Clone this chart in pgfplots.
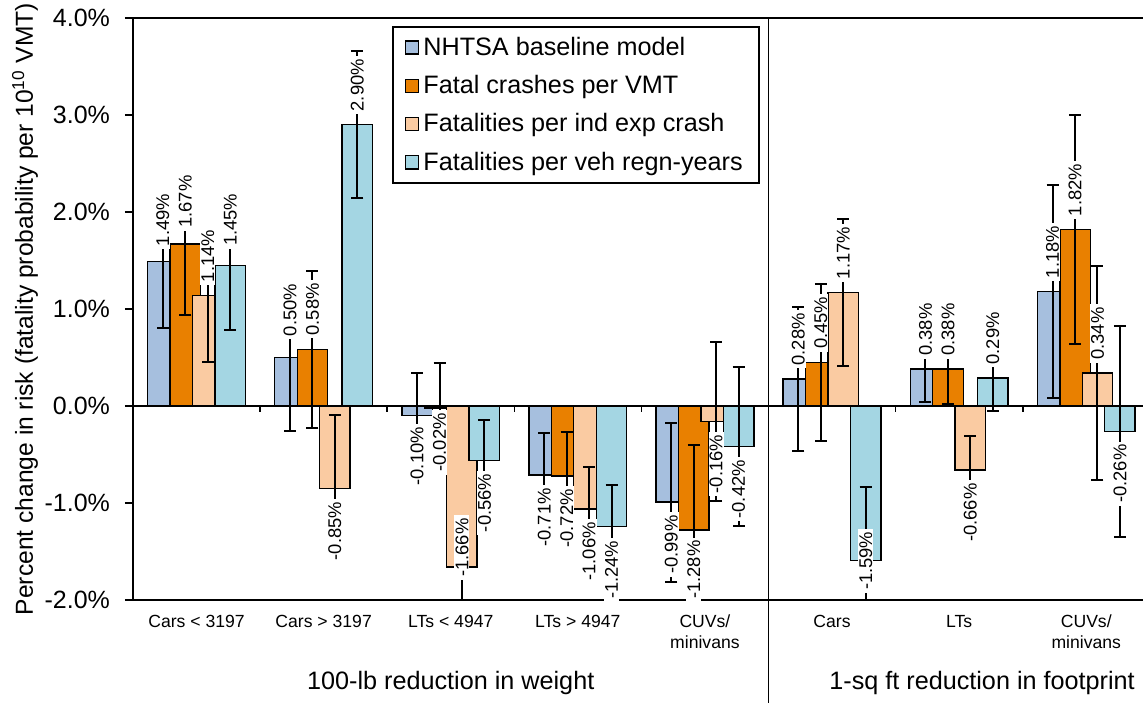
\documentclass[border=0pt]{standalone}
\usepackage{fontspec}
\setmainfont{Liberation Sans}
\usepackage{graphicx}
\usepackage{pgfplots}
\usepackage{pgfplotstable}
\pgfplotsset{compat=1.18}
\usetikzlibrary{calc}

\definecolor{cA}{RGB}{166,191,222}
\definecolor{cB}{RGB}{233,128,0}
\definecolor{cC}{RGB}{250,203,162}
\definecolor{cD}{RGB}{164,214,227}

% x y err label-offset(pt)
\pgfplotstableread{
x y err off
0 1.49 0.69 6
1 0.50 0.76 9
2 -0.10 0.44 -4
3 -0.71 0.43 -5
4 -0.99 0.82 -5
5 0.28 0.74 5
6 0.38 0.34 5
7 1.18 1.10 5
}\tA
\pgfplotstableread{
x y err off
0 1.67 0.73 6.5
1 0.58 0.81 5.5
2 -0.02 0.46 -1
3 -0.72 0.45 -5
4 -1.28 0.88 -3.5
5 0.45 0.81 5
6 0.38 0.36 5
7 1.82 1.18 5
}\tB
\pgfplotstableread{
x y err off
0 1.14 0.69 5
1 -0.85 0.76 -5
2 -1.66 0.42 26
3 -1.06 0.43 -5
4 -0.16 0.82 -5
5 1.17 0.76 5
6 -0.66 0.35 -5
7 0.34 1.10 5
}\tC
\pgfplotstableread{
x y err off
0 1.45 0.67 8
1 2.90 0.76 5
2 -0.56 0.42 -5
3 -1.24 0.43 -5.5
4 -0.42 0.82 -5
5 -1.59 0.75 16
6 0.29 0.34 5
7 -0.26 1.09 -5
}\tD

\pgfplotsset{
  barbase/.style={ybar, bar width=15.25pt, bar shift=0pt, draw=black, line width=0.7pt},
  errs/.style={error bars/.cd, y dir=both, y explicit,
    error bar style={black, line width=1pt},
    error mark options={rotate=90, mark size=3pt, line width=1pt, black}},
  lbls/.style={ybar, bar width=15.25pt, bar shift=0pt, draw=none, fill=none, forget plot,
    point meta=y,
    visualization depends on={\thisrow{off} \as \off},
    nodes near coords={\rotatebox{90}{\pgfmathprintnumber[fixed,fixed zerofill,precision=2,assume math mode=true]{\pgfplotspointmeta}\%}},
    nodes near coords align={vertical},
    every node near coord/.append style={fill=white, text=black, inner xsep=0.5pt, inner ysep=1.5pt,
      font=\fontsize{9.2}{10}\selectfont, yshift=\off pt}},
}

\begin{document}
\begin{tikzpicture}
\begin{axis}[
  scale only axis,
  width=508.4pt, height=291pt,
  xmin=-0.5, xmax=7.5,
  ymin=-2, ymax=4,
  axis line style={line width=0.8pt},
  clip mode=individual,
  xtick={0,...,7},
  xticklabels={Cars < 3197, Cars > 3197, LTs < 4947, LTs > 4947, {CUVs/\\minivans}, Cars, LTs, {CUVs/\\minivans}},
  x tick label style={font=\fontsize{8.8}{10.5}\selectfont, align=center},
  xtick style={draw=none},
  ytick={-2,-1,0,1,2,3,4},
  ytick style={line width=0.8pt, black},
  tick align=outside,
  major tick length=4pt,
  ytick pos=left,
  yticklabel={\pgfmathprintnumber[fixed,fixed zerofill,precision=1,assume math mode=true]{\tick}\%},
  y tick label style={font=\fontsize{12.5}{15}\selectfont, xshift=-4pt},
  ylabel={Percent change in risk (fatality probability per 10\textsuperscript{10} VMT)},
  every axis y label/.style={at={(rel axis cs:0,0.5)}, xshift=-54pt, rotate=90, anchor=center,
    font=\fontsize{12.3}{14}\selectfont},
  legend style={at={(rel axis cs:0.2547,0.986)}, anchor=north west, draw=black, line width=0.8pt,
    font=\fontsize{12.6}{15}\selectfont, row sep=4.5pt, inner xsep=6pt, inner ysep=3pt},
  legend cell align=left,
  legend image code/.code={\draw[#1, draw=black, line width=0.7pt] (0pt,-3.3pt) rectangle (6.6pt,3.3pt);},
]
\addplot[barbase, fill=cA, errs] table[x expr=\thisrow{x}-0.265, y=y, y error=err] {\tA};
\addlegendentry{NHTSA baseline model}
\addplot[barbase, fill=cB, errs] table[x expr=\thisrow{x}-0.088, y=y, y error=err] {\tB};
\addlegendentry{Fatal crashes per VMT}
\addplot[barbase, fill=cC, errs] table[x expr=\thisrow{x}+0.088, y=y, y error=err] {\tC};
\addlegendentry{Fatalities per ind exp crash}
\addplot[barbase, fill=cD, errs] table[x expr=\thisrow{x}+0.265, y=y, y error=err] {\tD};
\addlegendentry{Fatalities per veh regn-years}

\draw[black, line width=0.8pt] (axis cs:-0.5,0) -- (axis cs:7.5,0);
\pgfplotsinvokeforeach{0.5,1.5,2.5,3.5,5.5,6.5}{\draw[black, line width=0.8pt] (axis cs:#1,0) -- ++(0pt,-3pt);}

\addplot[lbls] table[x expr=\thisrow{x}-0.265, y=y] {\tA};
\addplot[lbls] table[x expr=\thisrow{x}-0.088, y=y] {\tB};
\addplot[lbls] table[x expr=\thisrow{x}+0.088, y=y] {\tC};
\addplot[lbls] table[x expr=\thisrow{x}+0.265, y=y] {\tD};

\coordinate (sepT) at (axis cs:4.5,4);
\coordinate (sepB) at (axis cs:4.5,-2);
\coordinate (g1) at (axis cs:2,-2);
\coordinate (g2) at (axis cs:6.18,-2);
\end{axis}
\draw[black, line width=0.8pt] (sepT) -- ($(sepB)+(0,-52pt)$);
\node[font=\fontsize{12.6}{15}\selectfont] at ($(g1)+(0,-41.5pt)$) {100-lb reduction in weight};
\node[font=\fontsize{12.6}{15}\selectfont] at ($(g2)+(0,-41.5pt)$) {1-sq ft reduction in footprint};
\pgfresetboundingbox
\path (-66.5pt,-51pt) rectangle (505pt,300pt);
\end{tikzpicture}
\end{document}
